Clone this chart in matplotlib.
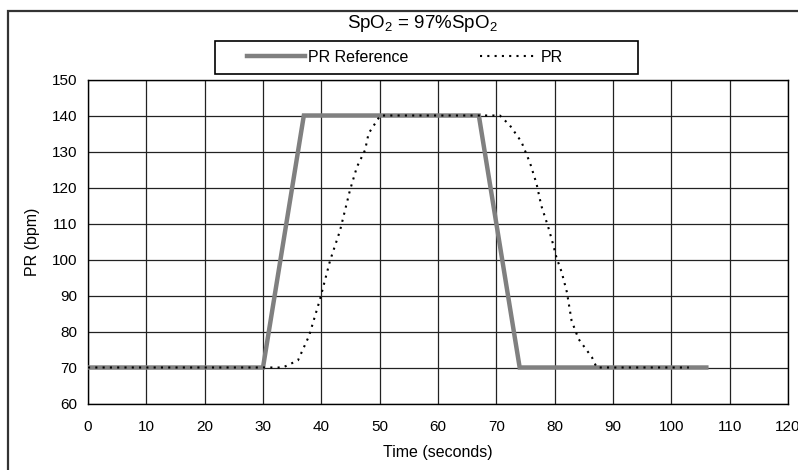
import matplotlib
matplotlib.use("Agg")
import matplotlib.pyplot as plt
from matplotlib.patches import Rectangle

plt.rcParams['font.family'] = ['Liberation Sans', 'DejaVu Sans']

# Data
ref_t = [0, 30, 37, 67, 74, 106]
ref_v = [70, 70, 140, 140, 70, 70]

pr_t = [0, 33.4, 36, 37.9, 39.8, 41.5, 43.2, 44.9, 46.1, 47.5, 48.1, 50.1,
        70.6, 72.3, 74.3, 75.8, 76.9, 77.7, 78.9, 79.7, 80.3, 81.2, 82.1,
        82.9, 84.1, 86.4, 87.2, 103]
pr_v = [70, 70, 72, 78.8, 89.1, 99.7, 108, 119.2, 125.7, 130.4, 135, 140,
        140, 137.3, 132.7, 126.7, 121, 115, 109, 104.4, 100.6, 96.5, 90.9,
        83, 77.9, 72.8, 70, 70]

x_ticks = list(range(0, 121, 10))
y_ticks = list(range(60, 151, 10))

W, H = 798, 470
fig = plt.figure(figsize=(W / 100, H / 100), dpi=100)
ax = fig.add_axes([88 / W, 1 - 403.5 / H, 700 / W, (403.5 - 79.5) / H])

ax.plot(ref_t, ref_v, color='#808080', lw=3.2, solid_joinstyle='miter',
        label='PR Reference', zorder=3)
ax.plot(pr_t, pr_v, color='black', lw=1.5, ls=(0, (1, 2.5)),
        label='PR', zorder=4)

ax.set_xlim(0, 120)
ax.set_ylim(60, 150)
ax.set_xticks(x_ticks)
ax.set_yticks(y_ticks)
ax.tick_params(axis='y', length=0, labelsize=11, pad=8)
ax.tick_params(axis='x', length=0, labelsize=11, pad=12)
ax.grid(True, color='#222222', lw=0.9)
ax.set_axisbelow(True)
for s in ax.spines.values():
    s.set_color('black')
    s.set_linewidth(1.0)

ax.set_xlabel('Time (seconds)', fontsize=11.5, labelpad=8)
ax.set_ylabel('PR (bpm)', fontsize=11.5, labelpad=8)

# Title
fig.text(422 / W, 1 - 23 / H, r'SpO$\mathregular{_2}$ = 97%SpO$\mathregular{_2}$',
         ha='center', va='center', fontsize=13.5)

# Outer border
fig.patches.append(Rectangle((8 / W, -0.01), 1, 1.01 - 11 / H, transform=fig.transFigure,
                             fill=False, edgecolor='#333333', lw=1.6))

# Legend box
fig.patches.append(Rectangle((215 / W, 1 - 74 / H), (638 - 215) / W, 33 / H,
                             transform=fig.transFigure, fill=False,
                             edgecolor='black', lw=1.2))
leg = fig.legend(loc='center', bbox_to_anchor=(405 / W, 1 - 57.5 / H), ncol=2,
                 frameon=False, fontsize=11.5, handlelength=3.6, handletextpad=0.2,
                 columnspacing=4.5)

fig.savefig('out.png', dpi=100)
